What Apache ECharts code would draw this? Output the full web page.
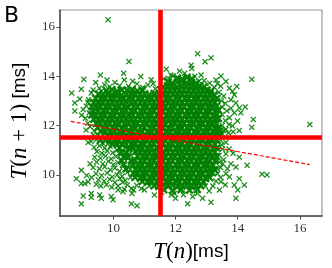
<!DOCTYPE html>
<html>
<head>
<meta charset="utf-8">
<script src="https://cdn.jsdelivr.net/npm/echarts@6/dist/echarts.min.js"></script>
<style>html,body{margin:0;padding:0;background:#fff}#c{width:332px;height:268px}</style>
</head>
<body>
<div id="c"></div>
<script>
// axis ranges and ticks
const xRange = [8.28, 16.71];
const yRange = [8.33, 16.69];
const xTicks = [10, 12, 14, 16];
const yTicks = [10, 12, 14, 16];
// mean lines and fitted line
const meanX = 11.52;
const meanY = 11.54;
const fitLine = [[8.63, 12.17], [16.32, 10.42]];

// dense upper band
const upperBand = [
[12.06,13.93],[12.21,13.89],[12.37,13.96],[12.52,13.9],
[11.76,13.78],[11.9,13.73],[12.06,13.77],[12.2,13.8],[12.35,13.74],[12.51,13.76],[12.66,13.72],
[11.6,13.58],[11.74,13.62],[11.9,13.6],[12.04,13.57],[12.19,13.63],[12.35,13.59],[12.49,13.61],[12.64,13.56],[12.78,13.62],[12.92,13.58],
[9.78,13.42],[9.95,13.46],[10.12,13.4],[10.27,13.45],[10.44,13.43],[10.6,13.47],[10.77,13.41],[10.93,13.44],
[11.52,13.45],[11.67,13.42],[11.82,13.46],[11.97,13.41],[12.12,13.44],[12.27,13.47],[12.42,13.43],[12.57,13.4],[12.72,13.46],[12.87,13.42],[13.01,13.45],[13.14,13.41],
[9.52,13.28],[9.66,13.25],[9.82,13.3],[9.96,13.26],[10.12,13.29],[10.26,13.24],[10.41,13.27],[10.57,13.31],[10.71,13.25],[10.86,13.28],[11.01,13.28],[11.16,13.25],[11.31,13.3],[11.46,13.26],[11.61,13.29],[11.76,13.24],[11.91,13.27],[12.06,13.31],[12.21,13.25],[12.36,13.28],[12.51,13.28],[12.66,13.25],[12.81,13.3],[12.96,13.26],[13.11,13.29],[13.24,13.24],
[9.43,13.11],[9.6,13.08],[9.73,13.13],[9.9,13.09],[10.03,13.12],[10.2,13.07],[10.33,13.1],[10.5,13.14],[10.63,13.08],[10.8,13.11],[10.93,13.11],[11.1,13.08],[11.23,13.13],[11.4,13.09],[11.53,13.12],[11.7,13.07],[11.83,13.1],[12.0,13.14],[12.13,13.08],[12.3,13.11],[12.43,13.11],[12.6,13.08],[12.73,13.13],[12.9,13.09],[13.03,13.12],[13.2,13.07],[13.33,13.1],
[9.37,12.94],[9.52,12.91],[9.66,12.96],[9.82,12.92],[9.96,12.95],[10.12,12.9],[10.26,12.93],[10.41,12.97],[10.57,12.91],[10.71,12.94],[10.86,12.94],[11.01,12.91],[11.16,12.96],[11.31,12.92],[11.46,12.95],[11.61,12.9],[11.76,12.93],[11.91,12.97],[12.06,12.91],[12.21,12.94],[12.36,12.94],[12.51,12.91],[12.66,12.96],[12.81,12.92],[12.96,12.95],[13.11,12.9],[13.26,12.93],
[9.31,12.77],[9.45,12.74],[9.58,12.79],[9.75,12.75],[9.88,12.78],[10.05,12.73],[10.18,12.76],[10.35,12.8],[10.48,12.74],[10.65,12.77],[10.78,12.77],[10.95,12.74],[11.08,12.79],[11.25,12.75],[11.38,12.78],[11.55,12.73],[11.68,12.76],[11.85,12.8],[11.98,12.74],[12.15,12.77],[12.28,12.77],[12.45,12.74],[12.58,12.79],[12.75,12.75],[12.88,12.78],[13.05,12.73],[13.18,12.76],[13.32,12.8],
[9.35,12.6],[9.5,12.57],[9.67,12.62],[9.8,12.58],[9.97,12.61],[10.1,12.56],[10.27,12.59],[10.4,12.63],[10.58,12.57],[10.7,12.6],[10.87,12.6],[11.0,12.57],[11.17,12.62],[11.3,12.58],[11.47,12.61],[11.6,12.56],[11.77,12.59],[11.9,12.63],[12.07,12.57],[12.2,12.6],[12.37,12.6],[12.5,12.57],[12.67,12.62],[12.8,12.58],[12.97,12.61],[13.1,12.56],[13.27,12.59],[13.38,12.63],
[9.3,12.43],[9.43,12.4],[9.6,12.45],[9.73,12.41],[9.9,12.44],[10.03,12.39],[10.2,12.42],[10.33,12.46],[10.5,12.4],[10.63,12.43],[10.8,12.43],[10.93,12.4],[11.1,12.45],[11.23,12.41],[11.4,12.44],[11.53,12.39],[11.7,12.42],[11.83,12.46],[12.0,12.4],[12.13,12.43],[12.3,12.43],[12.43,12.4],[12.6,12.45],[12.73,12.41],[12.9,12.44],[13.03,12.39],[13.2,12.42],[13.33,12.46],
[9.37,12.26],[9.52,12.23],[9.66,12.28],[9.82,12.24],[9.96,12.27],[10.12,12.22],[10.26,12.25],[10.41,12.29],[10.57,12.23],[10.71,12.26],[10.86,12.26],[11.01,12.23],[11.16,12.28],[11.31,12.24],[11.46,12.27],[11.61,12.22],[11.76,12.25],[11.91,12.29],[12.06,12.23],[12.21,12.26],[12.36,12.26],[12.51,12.23],[12.66,12.28],[12.81,12.24],[12.96,12.27],[13.11,12.22],[13.26,12.25],[13.38,12.29],
[9.45,12.09],[9.58,12.06],[9.75,12.11],[9.88,12.07],[10.05,12.1],[10.18,12.05],[10.35,12.08],[10.48,12.12],[10.65,12.06],[10.78,12.09],[10.95,12.09],[11.08,12.06],[11.25,12.11],[11.38,12.07],[11.55,12.1],[11.68,12.05],[11.85,12.08],[11.98,12.12],[12.15,12.06],[12.28,12.09],[12.45,12.09],[12.58,12.06],[12.75,12.11],[12.88,12.07],[13.05,12.1],[13.18,12.05],[13.32,12.08],
[9.5,11.92],[9.67,11.89],[9.8,11.94],[9.97,11.9],[10.1,11.93],[10.27,11.88],[10.4,11.91],[10.58,11.95],[10.7,11.89],[10.87,11.92],[11.0,11.92],[11.17,11.89],[11.3,11.94],[11.47,11.9],[11.6,11.93],[11.77,11.88],[11.9,11.91],[12.07,11.95],[12.2,11.89],[12.37,11.92],[12.5,11.92],[12.67,11.89],[12.8,11.94],[12.97,11.9],[13.1,11.93],[13.27,11.88],[13.38,11.91],
[9.6,11.75],[9.73,11.72],[9.9,11.77],[10.03,11.73],[10.2,11.76],[10.33,11.71],[10.5,11.74],[10.63,11.78],[10.8,11.72],[10.93,11.75],[11.1,11.75],[11.23,11.72],[11.4,11.77],[11.53,11.73],[11.7,11.76],[11.83,11.71],[12.0,11.74],[12.13,11.78],[12.3,11.72],[12.43,11.75],[12.6,11.75],[12.73,11.72],[12.9,11.77],[13.03,11.73],[13.2,11.76],[13.33,11.71],[13.42,11.78],
[9.82,11.61],[9.96,11.58],[10.12,11.63],[10.26,11.59],[10.41,11.62],[10.57,11.57],[10.71,11.6],[10.86,11.64],[11.01,11.58],[11.16,11.61],[11.31,11.61],[11.46,11.58],[11.61,11.63],[11.76,11.59],[11.91,11.62],[12.06,11.57],[12.21,11.6],[12.36,11.64],[12.51,11.58],[12.66,11.61],[12.81,11.61],[12.96,11.58],[13.11,11.63],[13.26,11.59],[13.4,11.62]
];

// dense lower band
const lowerBand = [
[9.58,11.4],[9.75,11.45],[9.88,11.41],[10.05,11.44],[10.18,11.39],[10.35,11.42],[10.48,11.46],[10.65,11.4],[10.78,11.43],[10.95,11.43],[11.08,11.4],[11.25,11.45],[11.38,11.41],[11.55,11.44],[11.68,11.39],[11.85,11.42],[11.98,11.46],[12.15,11.4],[12.28,11.43],[12.45,11.43],[12.58,11.4],[12.75,11.45],[12.88,11.41],[13.05,11.44],[13.18,11.39],[13.32,11.42],
[9.97,11.23],[10.1,11.28],[10.27,11.24],[10.4,11.27],[10.58,11.22],[10.7,11.25],[10.87,11.29],[11.0,11.23],[11.17,11.26],[11.3,11.26],[11.47,11.23],[11.6,11.28],[11.77,11.24],[11.9,11.27],[12.07,11.22],[12.2,11.25],[12.37,11.29],[12.5,11.23],[12.67,11.26],[12.8,11.26],[12.97,11.23],[13.1,11.28],[13.27,11.24],
[10.2,11.09],[10.5,11.06],[10.63,11.11],[10.8,11.07],[10.93,11.1],[11.1,11.05],[11.23,11.08],[11.4,11.12],[11.53,11.06],[11.7,11.09],[11.83,11.09],[12.0,11.06],[12.13,11.11],[12.3,11.07],[12.43,11.1],[12.6,11.05],[12.73,11.08],[12.9,11.12],[13.03,11.06],[13.2,11.09],[13.33,11.09],
[10.26,10.92],[10.41,10.89],[10.71,10.94],[10.86,10.9],[11.01,10.93],[11.16,10.88],[11.31,10.91],[11.46,10.95],[11.61,10.89],[11.76,10.92],[11.91,10.92],[12.06,10.89],[12.21,10.94],[12.36,10.9],[12.51,10.93],[12.66,10.88],[12.81,10.91],[12.96,10.95],[13.11,10.89],[13.26,10.92],
[10.35,10.75],[10.48,10.72],[10.78,10.77],[10.95,10.73],[11.08,10.76],[11.25,10.71],[11.38,10.74],[11.55,10.78],[11.68,10.72],[11.85,10.75],[11.98,10.75],[12.15,10.72],[12.28,10.77],[12.45,10.73],[12.58,10.76],[12.75,10.71],[12.88,10.74],[13.05,10.78],[13.18,10.72],[13.32,10.75],
[10.27,10.58],[10.58,10.55],[10.7,10.6],[10.87,10.56],[11.0,10.59],[11.17,10.54],[11.3,10.57],[11.47,10.61],[11.6,10.55],[11.77,10.58],[11.9,10.58],[12.07,10.55],[12.2,10.6],[12.37,10.56],[12.5,10.59],[12.67,10.54],[12.8,10.57],[12.97,10.61],[13.1,10.55],[13.27,10.58],
[10.33,10.41],[10.63,10.38],[10.8,10.43],[10.93,10.39],[11.1,10.42],[11.23,10.37],[11.4,10.4],[11.53,10.44],[11.7,10.38],[11.83,10.41],[12.0,10.41],[12.13,10.38],[12.3,10.43],[12.43,10.39],[12.6,10.42],[12.73,10.37],[12.9,10.4],[13.03,10.44],[13.2,10.38],
[10.41,10.24],[10.71,10.21],[10.86,10.26],[11.01,10.22],[11.16,10.25],[11.31,10.2],[11.46,10.23],[11.61,10.27],[11.76,10.21],[11.91,10.24],[12.06,10.24],[12.21,10.21],[12.36,10.26],[12.51,10.22],[12.66,10.25],[12.81,10.2],[12.96,10.23],[13.11,10.27],[13.26,10.21],
[10.65,10.07],[10.78,10.04],[10.95,10.09],[11.08,10.05],[11.25,10.08],[11.38,10.03],[11.55,10.06],[11.68,10.1],[11.85,10.04],[11.98,10.07],[12.15,10.07],[12.28,10.04],[12.45,10.09],[12.58,10.05],[12.75,10.08],[12.88,10.03],[13.05,10.06],[13.18,10.1],
[10.7,9.9],[10.87,9.87],[11.0,9.92],[11.17,9.88],[11.3,9.91],[11.47,9.86],[11.6,9.89],[11.77,9.93],[11.9,9.87],[12.07,9.9],[12.2,9.9],[12.37,9.87],[12.5,9.92],[12.67,9.88],[12.8,9.91],[12.97,9.86],[13.1,9.89],
[10.93,9.73],[11.1,9.7],[11.23,9.75],[11.4,9.71],[11.53,9.74],[11.7,9.69],[11.83,9.72],[12.0,9.76],[12.13,9.7],[12.3,9.73],[12.43,9.73],[12.6,9.7],[12.73,9.75],[12.9,9.71],
[11.31,9.56],[11.46,9.53],[11.61,9.58],[11.76,9.54],[11.91,9.57],[12.06,9.52],[12.21,9.55],[12.36,9.59],[12.51,9.53],[12.66,9.56],[12.81,9.56],
[11.62,9.4],[11.9,9.37],[12.18,9.42],[12.45,9.38],[12.7,9.41]
];

// medium-density lower-left cloud
const lowerLeftCloud = [
[9.45,11.43],[9.67,11.26],[9.38,11.12],[9.55,11.18],[9.72,11.1],[9.9,11.15],[9.47,10.95],[9.63,10.88],[9.8,10.97],[9.98,10.9],[10.12,11.0],[9.4,10.72],[9.58,10.68],[9.75,10.76],[9.93,10.65],[10.08,10.75],[10.22,10.82],[9.46,10.52],[9.66,10.45],[9.84,10.55],[10.0,10.42],[10.15,10.5],[9.35,10.3],[9.55,10.25],[9.72,10.33],[9.9,10.2],[10.05,10.28],[10.2,10.15],[9.44,10.05],[9.62,9.98],[9.8,10.08],[9.96,9.92],[10.12,10.0],[10.28,9.95],[10.45,10.1],[9.52,9.8],[9.7,9.75],[9.88,9.82],[10.05,9.7],[10.22,9.85],[10.38,9.78],[10.55,9.9],[9.6,9.55],[9.78,9.6],[9.95,9.5],[10.15,9.55],[10.3,9.7],[10.45,9.6],[10.35,9.42],[10.58,9.45],[10.6,9.25],[10.65,9.39],[10.75,9.58],[10.9,9.45],[11.0,9.39],[11.15,9.55],[11.32,9.19],[10.15,9.39],[10.31,9.32],[10.58,8.83],[10.76,8.75],[10.48,10.3],[10.55,10.6],[10.5,10.85],[10.62,11.2],[10.4,11.1],[10.12,11.2],[9.85,11.3]
];

// scattered outliers
const fringeTopLeft = [
[9.83,16.29],[10.5,14.6],[10.33,14.12],[9.58,14.05],[9.05,13.88],[10.88,13.99],[8.66,13.32],[8.76,12.92],[8.76,12.59],[8.97,13.48],[9.43,13.75],[9.72,13.65],[9.29,13.32],[8.92,13.08],[9.13,12.79],[9.03,12.65],[10.76,13.69],[11.11,13.65],[11.22,13.86],[10.2,13.62],[10.48,13.6],[9.55,13.52],[9.88,13.58],[9.2,13.05],[9.35,13.45],[9.62,13.4],[9.1,12.3],[9.18,12.1],[8.98,12.42],[9.22,12.52],[9.18,12.95],[9.25,11.95],[9.38,11.8],[9.12,11.82],[9.48,11.65],[9.35,11.62],[10.05,13.75],[10.62,13.8],[10.95,13.55],[11.35,13.5],[11.28,13.7],[9.8,13.85],[10.35,13.85]
];
const fringeTopRight = [
[12.71,14.92],[13.14,14.75],[12.95,14.59],[12.5,14.45],[12.52,14.32],[11.7,14.29],[12.13,14.21],[12.29,14.12],[13.46,14.01],[14.45,13.88],[13.97,13.59],[13.83,13.39],[14.24,12.76],[14.1,12.52],[14.5,12.25],[14.45,11.93],[16.32,12.05],[13.62,13.79],[13.73,13.52],[13.89,13.25],[13.78,13.05],[13.94,12.92],[14.05,12.72],[13.89,12.52],[13.73,12.32],[13.99,12.19],[13.83,11.99],[13.62,11.85],[13.3,13.85],[13.1,13.72],[12.92,13.82],[12.82,14.05],[11.85,14.05],[11.62,13.9],[11.78,13.9],[11.92,14.02],[12.62,14.0],[12.75,13.8],[13.25,13.55],[13.45,13.6],[13.4,13.35],[13.55,13.2],[13.48,13.0],[13.6,12.9],[13.5,12.75],[13.65,12.6],[13.5,12.45],[13.78,12.7],[13.6,12.2],[13.5,12.0],[13.72,12.05],[13.55,11.8],[13.7,11.7],[13.85,11.75],[13.5,11.65],[14.05,11.8],[13.35,13.7]
];
const fringeBottomRight = [
[11.96,9.25],[11.86,9.19],[12.55,9.12],[12.39,8.83],[12.87,9.05],[13.14,8.89],[13.41,9.39],[13.46,9.72],[13.94,9.05],[14.0,9.39],[13.89,9.59],[14.21,9.59],[13.73,9.92],[14.05,9.85],[14.3,10.39],[13.94,10.32],[13.78,10.45],[14.05,10.72],[13.62,11.32],[13.67,10.25],[13.35,10.05],[13.62,10.85],[13.51,11.05],[13.41,10.52],[14.78,10.03],[14.94,10.0],[13.08,9.35],[12.95,9.55],[12.7,9.25],[12.25,9.2],[13.45,9.9],[13.55,10.62],[13.48,11.22],[13.72,11.05],[13.85,10.88],[13.45,10.3],[13.4,10.8],[13.52,10.45],[13.3,9.75],[13.2,9.55],[13.6,9.6],[12.0,9.05],[12.15,9.35],[11.55,9.3],[13.45,11.4],[13.62,10.05],[13.35,10.25],[13.3,10.62],[13.42,11.55]
];
const fringeBottomLeft = [
[8.97,10.19],[8.81,9.85],[8.97,9.65],[9.08,9.65],[9.19,9.72],[9.03,9.15],[8.97,8.83],[9.29,9.25],[9.29,9.09],[9.56,9.19],[9.61,9.05],[9.93,9.12],[9.99,8.99],[9.19,11.32],[9.29,11.36],[9.14,9.98],[9.25,10.45],[9.3,9.9],[9.45,9.62]
];

const corePoints = [].concat(upperBand, lowerBand);
const sparsePoints = [].concat(lowerLeftCloud, fringeTopLeft, fringeTopRight, fringeBottomRight, fringeBottomLeft);

const X_THIN = 'path://M0,1.5L1.5,0L5,3.5L8.5,0L10,1.5L6.5,5L10,8.5L8.5,10L5,6.5L1.5,10L0,8.5L3.5,5Z';
const X_THICK = 'path://M0,2L2,0L5,3L8,0L10,2L7,5L10,8L8,10L5,7L2,10L0,8L3,5Z';

const rich = {
  it: {fontFamily: 'Liberation Serif', fontStyle: 'italic', fontSize: 23, color: '#000'},
  rm: {fontFamily: 'Liberation Serif', fontSize: 23, color: '#000'},
  sf: {fontFamily: 'Liberation Sans', fontSize: 19, color: '#000'}
};
const axisCommon = {
  type: 'value',
  splitLine: {show: false},
  axisLine: {show: true, onZero: false, lineStyle: {color: '#4d4d4d', width: 1.5}},
  nameLocation: 'middle'
};

const chart = echarts.init(document.getElementById('c'), null, {renderer: 'canvas'});
chart.setOption({
  animation: false,
  grid: {left: 59, right: 10, top: 10, bottom: 50, show: true, borderColor: '#999', borderWidth: 1.2},
  xAxis: Object.assign({}, axisCommon, {
    min: xRange[0], max: xRange[1],
    axisTick: {show: true, length: 3.5, customValues: xTicks, lineStyle: {color: '#4d4d4d'}},
    axisLabel: {customValues: xTicks, margin: 6, fontFamily: 'Liberation Serif', fontSize: 13, color: '#333'},
    name: '{it|T}{rm|(}{it|n}{rm|)}{sf|[ms]}',
    nameGap: 14,
    nameTextStyle: {rich: rich}
  }),
  yAxis: Object.assign({}, axisCommon, {
    min: yRange[0], max: yRange[1],
    axisTick: {show: true, length: 3.5, customValues: yTicks, lineStyle: {color: '#4d4d4d'}},
    axisLabel: {customValues: yTicks, margin: 5, fontFamily: 'Liberation Serif', fontSize: 13, color: '#333'},
    name: '{it|T}{rm|(}{it|n}{rm| + 1)}{sf| [ms]}',
    nameGap: 19,
    nameTextStyle: {rich: rich, padding: [0, 16, 0, 0]}
  }),
  graphic: [{
    type: 'text', left: 4, top: 5,
    style: {text: 'B', fontFamily: 'DejaVu Sans', fontSize: 22, fill: '#000'}
  }],
  series: [
    {
      type: 'scatter',
      data: corePoints,
      symbol: X_THICK,
      symbolSize: 8.5,
      itemStyle: {color: '#008000', opacity: 0.95},
      emphasis: {disabled: true},
      silent: true
    },
    {
      type: 'scatter',
      data: sparsePoints,
      symbol: X_THIN,
      symbolSize: 6,
      itemStyle: {color: '#008000', opacity: 0.9},
      emphasis: {disabled: true},
      silent: true
    },
    {
      type: 'line',
      data: fitLine,
      showSymbol: false,
      symbol: 'none',
      lineStyle: {color: '#ff0000', width: 1.2, type: [4, 2]},
      emphasis: {disabled: true},
      silent: true,
      z: 5,
      markLine: {
        silent: true,
        symbol: ['none', 'none'],
        label: {show: false},
        lineStyle: {color: '#ff0000', width: 4.6, type: 'solid'},
        emphasis: {disabled: true},
        data: [{xAxis: meanX}, {yAxis: meanY}]
      }
    }
  ]
});
</script>
</body>
</html>
